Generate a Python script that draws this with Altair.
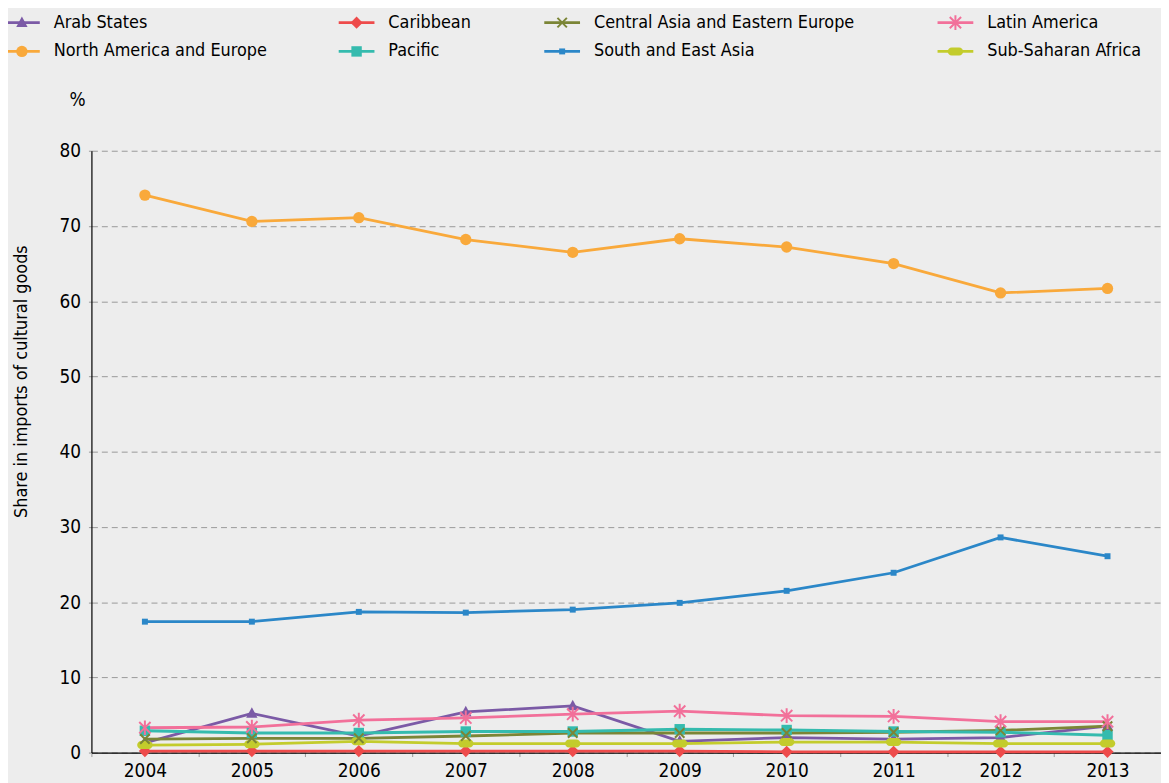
import altair as alt
import pandas as pd

FONT = "Liberation Sans Narrow, DejaVu Sans Condensed, Roboto, sans-serif"

years = [2004, 2005, 2006, 2007, 2008, 2009, 2010, 2011, 2012, 2013]
series = ["Arab States", "Caribbean", "Central Asia and Eastern Europe", "Latin America",
          "North America and Europe", "Pacific", "South and East Asia", "Sub-Saharan Africa"]
colors = ["#7b5aa6", "#ee4b4b", "#7b8536", "#f2709a", "#f9a93b", "#35bbae", "#2b87c8", "#c3cc2c"]

arab = [1.3, 5.2, 2.2, 5.4, 6.2, 1.5, 2.0, 1.8, 2.0, 3.5]
caribbean = [0.2, 0.2, 0.2, 0.2, 0.2, 0.2, 0.1, 0.1, 0.1, 0.1]
central_asia = [1.8, 1.9, 1.9, 2.2, 2.6, 2.6, 2.6, 2.7, 2.95, 3.5]
latin_america = [3.3, 3.4, 4.3, 4.6, 5.1, 5.5, 4.9, 4.8, 4.1, 4.1]
north_america = [74.1, 70.6, 71.1, 68.2, 66.5, 68.3, 67.2, 65.0, 61.1, 61.7]
pacific = [2.9, 2.6, 2.6, 2.8, 2.8, 3.1, 3.0, 2.8, 2.7, 2.3]
south_east_asia = [17.4, 17.4, 18.7, 18.6, 19.0, 19.9, 21.5, 23.9, 28.6, 26.1]
sub_saharan = [1.0, 1.1, 1.5, 1.2, 1.2, 1.2, 1.4, 1.4, 1.2, 1.2]
all_values = [arab, caribbean, central_asia, latin_america, north_america, pacific,
              south_east_asia, sub_saharan]

# marker styles
shapes = [
    "M0,-1.1L1,0.75L-1,0.75Z",
    "diamond",
    "M-1,-1L1,1M-1,1L1,-1",
    "M-1,-1L1,1M-1,1L1,-1M0,-1.3L0,1.3",
    "circle",
    "square",
    "square",
    "M-0.5,-0.55L0.5,-0.55A0.55,0.55 0 0 1 0.5,0.55L-0.5,0.55A0.55,0.55 0 0 1 -0.5,-0.55Z",
]
sizes = [130, 150, 90, 130, 130, 110, 36, 220]
stroked = ["Central Asia and Eastern Europe", "Latin America"]

rows = []
for name, vals in zip(series, all_values):
    for yr, v in zip(years, vals):
        rows.append({"series": name, "year": str(yr), "value": v})
df = pd.DataFrame(rows)

color = alt.Color("series:N", scale=alt.Scale(domain=series, range=colors), legend=None)
shape = alt.Shape("series:N", scale=alt.Scale(domain=series, range=shapes), legend=None)
size = alt.Size("series:N", scale=alt.Scale(type="ordinal", domain=series, range=sizes),
                legend=None)

x = alt.X("year:O", bandPosition=0.5,
          scale=alt.Scale(type="band", paddingInner=0, paddingOuter=0),
          axis=alt.Axis(title=None, tickBand="extent", labelAngle=0, labelFont=FONT,
                        labelFontSize=19, labelColor="#000", tickColor="#999", tickSize=4,
                        domainColor="#000", domainWidth=1.2, labelPadding=5, grid=False))
y = alt.Y("value:Q", scale=alt.Scale(domain=[0, 80], nice=False),
          axis=alt.Axis(values=list(range(0, 81, 10)), title="Share in imports of cultural goods",
                        titleFont=FONT, titleFontSize=18, titleFontWeight="normal",
                        titleColor="#000", titleX=-70, titleY=232, titleAlign="center",
                        titleBaseline="middle", labelFont=FONT, labelFontSize=19,
                        labelColor="#000", labelPadding=8, tickSize=3, tickColor="#999",
                        domainColor="#000", domainWidth=1.2, gridColor="#999",
                        gridDash=[6, 4], gridWidth=1))

base = alt.Chart(df)
lines = base.mark_line(strokeWidth=2.8).encode(x=x, y=y, color=color, detail="series:N")
pts_fill = base.mark_point(filled=True, opacity=1).encode(
    x=x, y=y, color=color, shape=shape, size=size
).transform_filter(~alt.FieldOneOfPredicate(field="series", oneOf=stroked))
pts_stroke = base.mark_point(filled=False, opacity=1, strokeWidth=2).encode(
    x=x, y=y, color=color, shape=shape, size=size
).transform_filter(alt.FieldOneOfPredicate(field="series", oneOf=stroked))
main = alt.layer(lines, pts_fill, pts_stroke)

# legend (manual, 4 columns x 2 rows)
col_x = [-88, 249, 456, 852]
row_y = [-129, -100]
leg_rows = []
for i, name in enumerate(series):
    lx = col_x[i % 4]
    ly = row_y[i // 4]
    leg_rows.append({"series": name, "lx": lx, "lx2": lx + 36, "mx": lx + 18,
                     "tx": lx + 50, "ly": ly})
leg = pd.DataFrame(leg_rows)
lb = alt.Chart(leg)
lxe = alt.X("lx:Q", scale=None, axis=None)
mxe = alt.X("mx:Q", scale=None, axis=None)
txe = alt.X("tx:Q", scale=None, axis=None)
lye = alt.Y("ly:Q", scale=None, axis=None)
leg_line = lb.mark_rule(strokeWidth=2.8).encode(x=lxe, x2="lx2:Q", y=lye, color=color)
leg_pt_fill = lb.mark_point(filled=True, opacity=1).encode(
    x=mxe, y=lye, color=color, shape=shape, size=size
).transform_filter(~alt.FieldOneOfPredicate(field="series", oneOf=stroked))
leg_pt_stroke = lb.mark_point(filled=False, opacity=1, strokeWidth=2).encode(
    x=mxe, y=lye, color=color, shape=shape, size=size
).transform_filter(alt.FieldOneOfPredicate(field="series", oneOf=stroked))
leg_text = lb.mark_text(align="left", baseline="middle", font=FONT, fontSize=18,
                        color="#000").encode(x=txe, y=lye, text="series:N")
legend = alt.layer(leg_line, leg_pt_fill, leg_pt_stroke, leg_text)

unit = alt.Chart(pd.DataFrame({"t": ["%"]})).mark_text(
    font=FONT, fontSize=19, color="#000", align="center", baseline="middle"
).encode(x=alt.value(-14), y=alt.value(-51), text="t:N")

chart = alt.layer(main, legend, unit).resolve_scale(
    x="independent", y="independent"
).properties(
    width=1077, height=606, background="#ededed",
    padding={"left": 84, "top": 141, "right": 0, "bottom": 40},
    autosize=alt.AutoSizeParams(type="none"),
).configure_view(stroke=None)

chart.save("out.html", embed_options={"renderer": "svg", "actions": False})
